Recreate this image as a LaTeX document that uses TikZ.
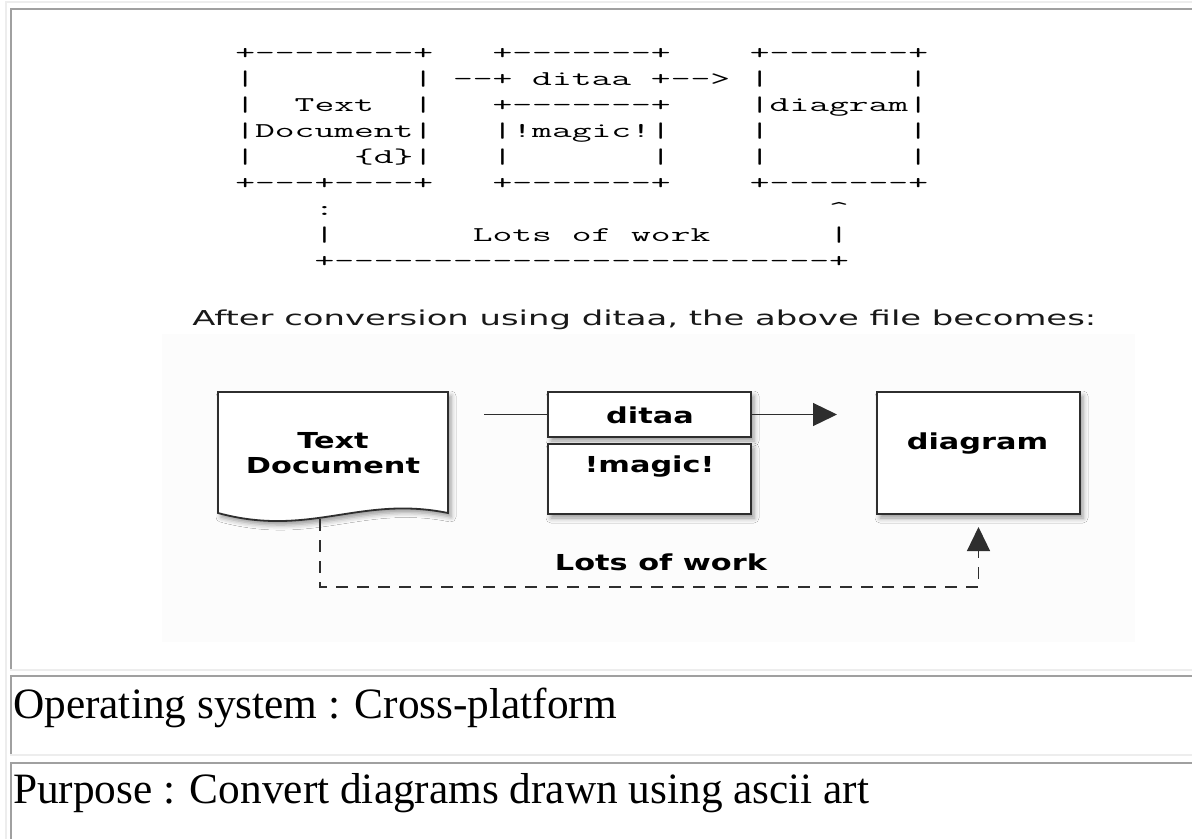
\documentclass[tikz,border=0pt]{standalone}
\usepackage{fontspec}
\newfontfamily\ditaafont{DejaVu Sans}
\newfontfamily\pagefont{Liberation Serif}
\usetikzlibrary{arrows.meta,shadows.blur}
\definecolor{cellline}{HTML}{A0A0A0}
\definecolor{tableline}{HTML}{EDEDED}
\definecolor{pngback}{HTML}{FCFCFC}
\definecolor{boxline}{HTML}{2E2E2E}
\newcommand\dsh[1]{\foreach\k in {1,...,#1}{-\kern0pt}}
\tikzset{
  ascii/.style={anchor=base west,inner sep=0pt,xscale=1.83,font=\ttfamily\fontsize{21}{26}\selectfont},
  lbl/.style={inner sep=0pt,xscale=1.38,font=\ditaafont\bfseries\fontsize{22}{25}\selectfont},
  shade/.style={blur shadow={shadow xshift=3pt,shadow yshift=-4pt,shadow blur radius=5pt,shadow opacity=40}},
  dbox/.style={draw=boxline,fill=white,line width=1.8pt,inner sep=0pt,shade},
  wire/.style={draw=boxline,line width=1.3pt},
  tip/.style={-{Triangle[length=24pt,width=23pt]}},
  cell/.style={anchor=base west,inner sep=0pt,font=\pagefont\fontsize{43.3}{50}\selectfont}
}
\begin{document}
\begin{tikzpicture}[x=1pt,y=-1pt]
\useasboundingbox (0,0) rectangle (1192,839);
\fill[white] (0,0) rectangle (1192,839);
\draw[tableline,line width=2pt] (6,839) -- (6,1.5) -- (1192,1.5);
\draw[cellline,line width=2pt] (10.5,670) -- (10.5,8.5) -- (1192,8.5);
\draw[tableline,line width=2pt] (10,670) -- (1192,670);
\draw[cellline,line width=2pt] (10.5,755) -- (10.5,675.5) -- (1192,675.5);
\draw[tableline,line width=2pt] (10,755) -- (1192,755);
\draw[cellline,line width=2pt] (10.5,839) -- (10.5,762.5) -- (1192,762.5);

\foreach \row [count=\i] in {
  {+\dsh{8}+~~~+\dsh{7}+~~~~+\dsh{7}+},
  {|~~~~~~~~|~\dsh{2}+~ditaa~+\dsh{2}>~|~~~~~~~|},
  {|~~Text~~|~~~+\dsh{7}+~~~~|diagram|},
  {|Document|~~~|!magic!|~~~~|~~~~~~~|},
  {|~~~~~\{d\}|~~~|~~~~~~~|~~~~|~~~~~~~|},
  {+\dsh{3}+\dsh{4}+~~~+\dsh{7}+~~~~+\dsh{7}+},
  {~~~~:~~~~~~~~~~~~~~~~~~~~~~~~~\textasciicircum},
  {~~~~|~~~~~~~Lots~of~work~~~~~~|},
  {~~~~+\dsh{25}+}}
  \node[ascii] (row\i) at (235,33+26*\i) {\row};

\node[anchor=base west,inner sep=0pt,xscale=1.65,text=black!90,font=\ditaafont\fontsize{20.5}{24}\selectfont] (after) at (192,325) {After conversion using ditaa, the above file becomes:};

\fill[pngback] (162,334) rectangle (1135,642);
\draw[dbox] (218,392) -- (448,392) -- (448,513) .. controls (360,495) and (310,538) .. (218,513) -- cycle;
\coordinate (docfoot) at (320,519);
\node[lbl,align=center,anchor=north] (doctext) at (333,432) {Text\\Document};

\node[dbox,minimum width=203pt,minimum height=45pt] (ditaa) at (649.5,414.5) {};
\node[lbl,anchor=base] (ditaatext) at (650,423) {ditaa};
\node[dbox,minimum width=203pt,minimum height=70pt] (magic) at (649.5,479) {};
\node[lbl,anchor=base] (magictext) at (649.5,472) {!magic!};
\node[dbox,minimum width=203pt,minimum height=122pt] (diagram) at (978.5,453) {};
\node[lbl,anchor=base] (diagramtext) at (977.5,449) {diagram};
\node[lbl,anchor=base] (work) at (661,570) {Lots of work};

\coordinate (feed) at (484,414.5);
\coordinate (handoff) at (837,414.5);
\coordinate (workturn) at (978.5,587);
\coordinate (backin) at (978.5,527);
\draw[wire] (feed) -- (ditaa.west);
\draw[wire,tip] (ditaa.east) -- (handoff);
\draw[wire,tip,dash pattern=on 12pt off 9pt] (docfoot) |- (workturn) -- (backin);

\node[cell] (os) at (13,718) {Operating system : Cross-platform};
\node[cell] (purpose) at (13,803) {Purpose : Convert diagrams drawn using ascii art};
\end{tikzpicture}
\end{document}
